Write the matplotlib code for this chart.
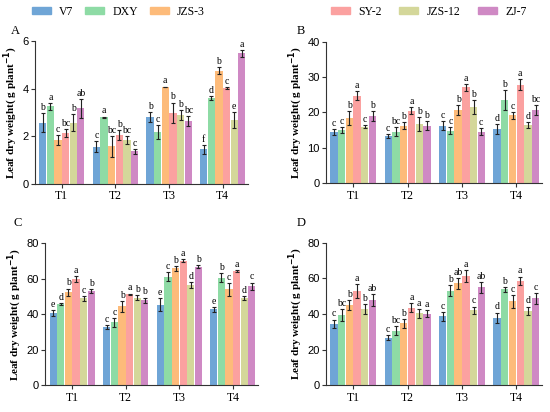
import matplotlib
matplotlib.use("Agg")
import matplotlib.pyplot as plt
import numpy as np

groups = ["T1", "T2", "T3", "T4"]
cultivars = ["V7", "DXY", "JZS-3", "SY-2", "JZS-12", "ZJ-7"]
colors = ["#6fa5d6", "#8edba5", "#fdbb7a", "#fba1a0", "#d4d79a", "#cf89c4"]

# Panel A
a_means = [[2.58, 1.57, 2.82, 1.45],
           [3.26, 2.81, 2.18, 3.60],
           [1.85, 1.58, 4.07, 4.76],
           [2.13, 2.07, 3.00, 4.03],
           [2.58, 1.83, 2.89, 2.68],
           [3.17, 1.37, 2.65, 5.49]]
a_err = [[0.41, 0.24, 0.21, 0.19],
         [0.15, 0.02, 0.28, 0.09],
         [0.21, 0.43, 0.02, 0.15],
         [0.16, 0.21, 0.42, 0.05],
         [0.37, 0.17, 0.22, 0.34],
         [0.39, 0.10, 0.21, 0.15]]
a_sig = [["b", "c", "b", "f"],
         ["a", "a", "c", "d"],
         ["c", "bc", "a", "b"],
         ["bc", "b", "b", "c"],
         ["b", "bc", "b", "e"],
         ["ab", "c", "bc", "a"]]

# Panel B
b_means = [[14.4, 13.4, 16.3, 15.4],
           [15.1, 14.6, 14.8, 23.5],
           [18.4, 16.2, 20.7, 19.2],
           [24.7, 20.5, 27.1, 27.9],
           [16.0, 16.7, 21.5, 16.4],
           [18.9, 16.3, 14.6, 20.7]]
b_err = [[0.8, 0.6, 1.2, 1.4],
         [0.8, 1.3, 1.0, 2.8],
         [2.0, 1.0, 1.3, 1.0],
         [1.3, 1.0, 0.9, 1.5],
         [0.5, 2.0, 2.0, 0.8],
         [1.4, 1.3, 1.0, 1.3]]
b_sig = [["c", "c", "c", "d"],
         ["c", "bc", "c", "b"],
         ["b", "b", "b", "c"],
         ["a", "a", "a", "a"],
         ["c", "b", "b", "d"],
         ["b", "b", "c", "bc"]]

# Panel C
c_means = [[40.7, 32.9, 45.4, 42.8],
           [46.0, 35.5, 61.1, 60.7],
           [52.5, 44.5, 65.8, 54.0],
           [59.8, 51.2, 70.3, 64.3],
           [49.0, 49.3, 56.6, 49.2],
           [53.1, 47.9, 66.7, 55.9]]
c_err = [[1.5, 1.0, 3.5, 1.5],
         [0.5, 2.5, 2.5, 2.5],
         [2.0, 3.0, 1.5, 3.5],
         [1.5, 0.5, 1.0, 0.6],
         [1.5, 1.3, 1.8, 1.2],
         [1.0, 1.5, 0.8, 2.0]]
c_sig = [["e", "c", "e", "e"],
         ["d", "c", "c", "b"],
         ["b", "b", "b", "c"],
         ["a", "a", "a", "a"],
         ["c", "b", "d", "d"],
         ["b", "b", "b", "c"]]

# Panel D
d_means = [[34.4, 26.7, 38.7, 37.8],
           [39.3, 30.5, 53.1, 53.8],
           [45.0, 34.8, 57.2, 47.1],
           [52.7, 43.4, 61.3, 58.5],
           [42.8, 40.4, 42.2, 41.7],
           [47.9, 40.2, 55.0, 48.8]]
d_err = [[2.5, 1.5, 2.5, 3.0],
         [3.5, 2.5, 3.0, 1.5],
         [3.0, 2.5, 3.0, 3.5],
         [4.0, 2.5, 3.5, 2.5],
         [3.0, 2.5, 2.0, 2.5],
         [3.5, 2.0, 3.0, 3.0]]
d_sig = [["c", "c", "c", "d"],
         ["bc", "bc", "b", "b"],
         ["b", "b", "ab", "c"],
         ["a", "a", "a", "a"],
         ["b", "a", "c", "d"],
         ["ab", "a", "ab", "c"]]

ylabel = "Leaf dry weight( g plant$^{\\mathbf{-1}}$)"

fig = plt.figure(figsize=(5.5, 4.12), dpi=100)

panels = [
    ("A", [0.0636, 0.5534, 0.3873, 0.347], a_means, a_err, a_sig, 6, [0, 2, 4, 6], (0.020, 0.917)),
    ("B", [0.5927, 0.5551, 0.3927, 0.3437], b_means, b_err, b_sig, 40, [0, 10, 20, 30, 40], (0.539, 0.917)),
    ("C", [0.0827, 0.0648, 0.3864, 0.3447], c_means, c_err, c_sig, 80, [0, 20, 40, 60, 80], (0.024, 0.452)),
    ("D", [0.5927, 0.0648, 0.3927, 0.3461], d_means, d_err, d_sig, 80, [0, 20, 40, 60, 80], (0.539, 0.452)),
]

x = np.arange(len(groups))
step = 0.142
bw = 0.135
serif = ["Liberation Serif", "DejaVu Serif"]
sans = ["Liberation Sans", "DejaVu Sans"]

for letter, pos, means, errs, sigs, ymax, yt, lpos in panels:
    ax = fig.add_axes(pos)
    for i, name in enumerate(cultivars):
        xi = x + (i - 2.5) * step
        ax.bar(xi, means[i], width=bw, color=colors[i], label=name, zorder=2)
        ax.errorbar(xi, means[i], yerr=errs[i], fmt="none", ecolor="#222222",
                    elinewidth=0.8, capsize=1.6, capthick=0.8, zorder=3)
        for j in range(len(groups)):
            ax.annotate(sigs[i][j], (xi[j], means[i][j] + errs[i][j]),
                        xytext=(0, 0.8), textcoords="offset points",
                        ha="center", va="bottom", fontsize=7, family=serif)
    ax.set_xlim(-0.5, 3.47)
    ax.set_ylim(0, ymax)
    ax.set_yticks(yt)
    ax.set_xticks(x)
    ax.set_xticklabels(groups, family=serif, fontsize=8.5)
    for lab in ax.get_yticklabels():
        lab.set_family(sans)
        lab.set_fontsize(8)
    ax.spines["top"].set_visible(False)
    ax.spines["right"].set_visible(False)
    for s in ("left", "bottom"):
        ax.spines[s].set_linewidth(0.8)
        ax.spines[s].set_color("#333333")
    ax.tick_params(axis="both", length=3, width=0.8, color="#333333", pad=1.5)
    ax.set_ylabel(ylabel, family=serif, fontsize=8, fontweight="bold", labelpad=2)
    fig.text(lpos[0], lpos[1], letter, family=serif, fontsize=9, ha="left", va="baseline")

leg_kw = dict(frameon=False, handlelength=1.6, handleheight=0.55, handletextpad=0.7,
              borderpad=0, borderaxespad=0, prop={"family": serif, "size": 8.5})
bars_all = [plt.Rectangle((0, 0), 1, 1, color=c) for c in colors]
fig.legend(bars_all[:3], cultivars[:3], loc="center left", bbox_to_anchor=(0.058, 0.971),
           ncol=3, columnspacing=1.0, **leg_kw)
fig.legend(bars_all[3:], cultivars[3:], loc="center left", bbox_to_anchor=(0.602, 0.971),
           ncol=3, columnspacing=1.5, **leg_kw)

fig.savefig("out.png", dpi=100)
